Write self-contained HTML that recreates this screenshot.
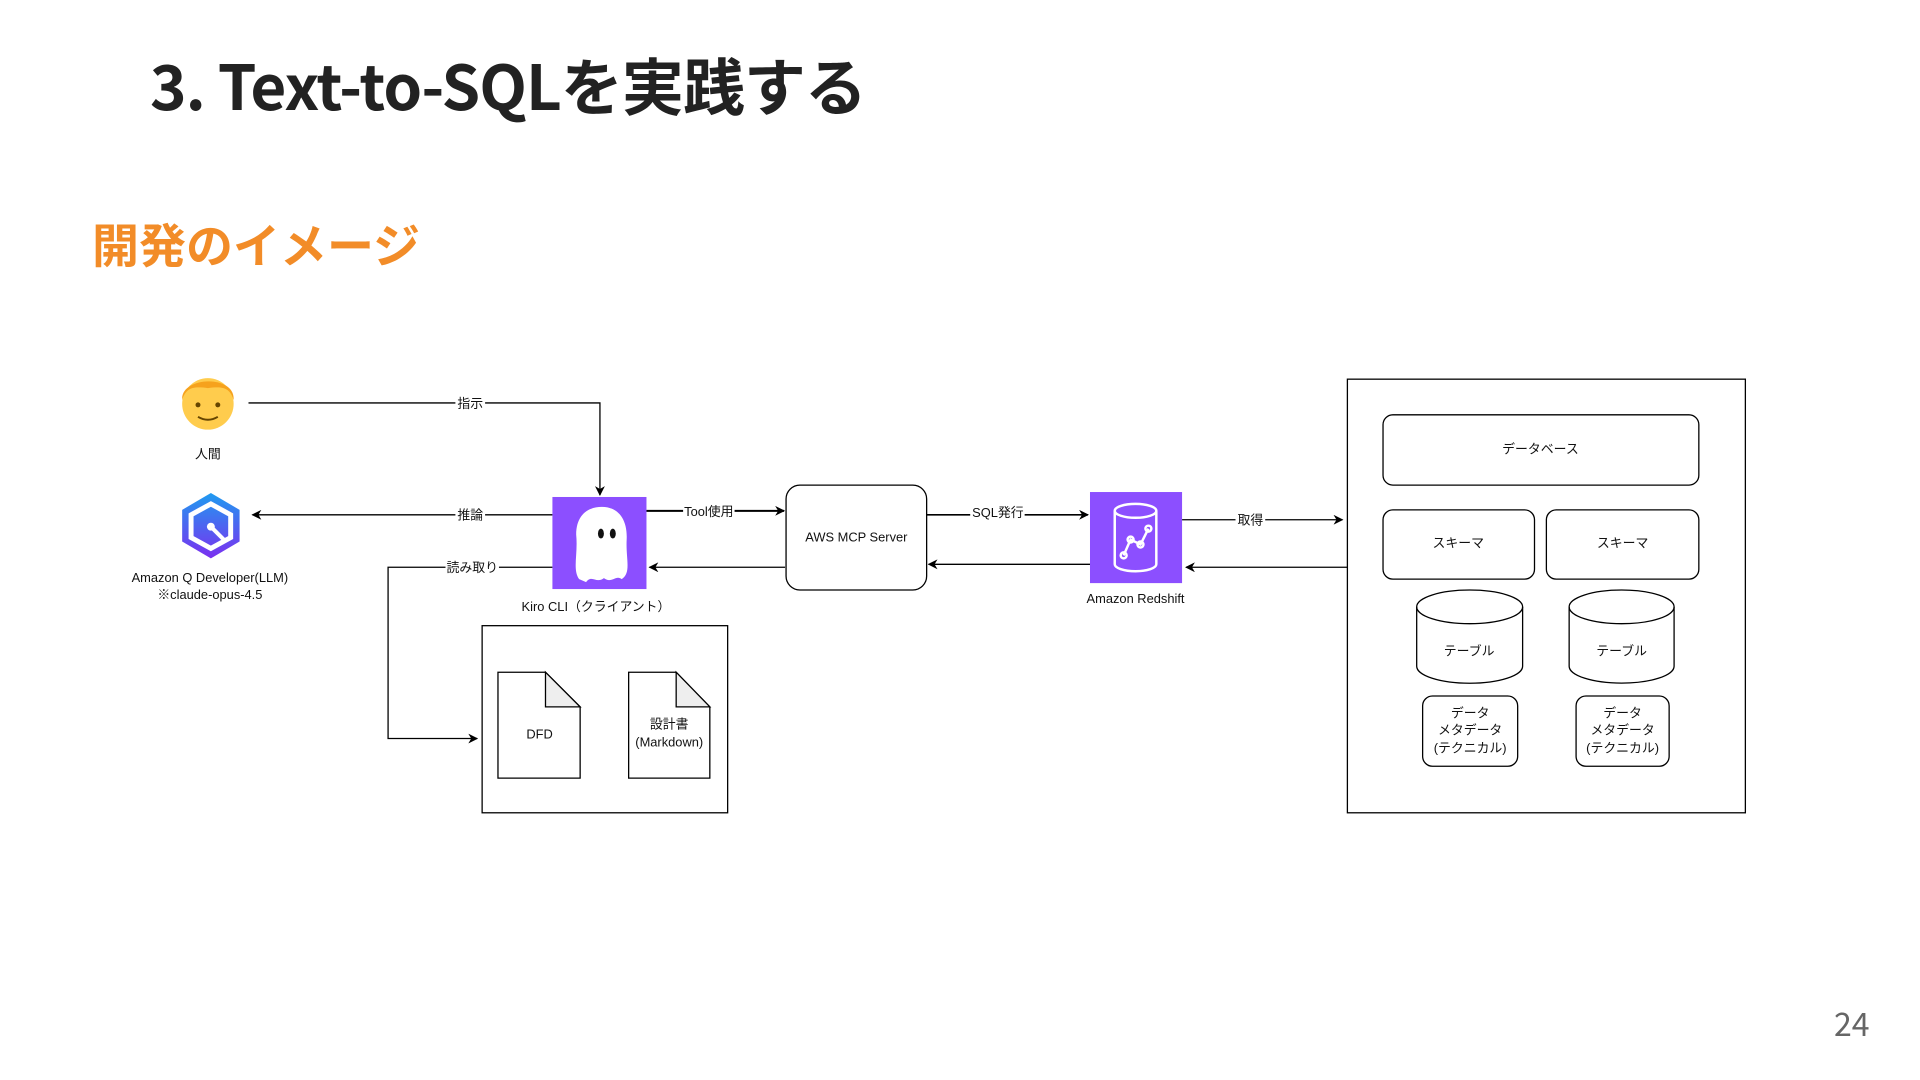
<!DOCTYPE html>
<html><head><meta charset="utf-8"><style>
body{margin:0;width:1920px;height:1080px;background:#fff;overflow:hidden;font-family:"Liberation Sans","Noto Sans CJK JP",sans-serif;position:relative}
.t{position:absolute;left:150px;top:38px;font-size:62px;font-weight:bold;color:#222;font-family:"Noto Sans CJK JP","Liberation Sans",sans-serif;letter-spacing:-1px;white-space:nowrap}
.s{position:absolute;left:92px;top:208px;font-size:47px;font-weight:bold;color:#f28c28;font-family:"Noto Sans CJK JP",sans-serif;white-space:nowrap}
.p{position:absolute;left:1834px;top:1000px;font-size:32px;color:#666;font-family:"Noto Sans CJK JP",sans-serif}
svg{position:absolute;left:0;top:0}
text{font-family:"Liberation Sans","Noto Sans CJK JP",sans-serif;font-size:13px;fill:#111}
</style></head><body>
<div class="t">3. Text-to-SQLを実践する</div>
<div class="s">開発のイメージ</div>
<div class="p">24</div>
<svg width="1920" height="1080">
<defs><marker id="a" markerWidth="10" markerHeight="10" refX="9" refY="5" orient="auto" markerUnits="userSpaceOnUse"><path d="M0,0 L10,5 L0,10 L3,5z" fill="#000"/></marker>
<linearGradient id="g" x1="0" y1="0" x2="0" y2="1"><stop offset="0" stop-color="#1f9bf0"/><stop offset="1" stop-color="#7b2ff0"/></linearGradient></defs>
<g transform="scale(0.99)">
<g stroke="#000" stroke-width="1.3" fill="none">
<path d="M251,407 H606 V500" marker-end="url(#a)"/>
<path d="M558,520 H255" marker-end="url(#a)"/>
<path d="M558,573 H392 V746 H482" marker-end="url(#a)"/>
<path d="M653,516 H792" stroke-width="2" marker-end="url(#a)"/>
<path d="M793,573 H656" marker-end="url(#a)"/>
<path d="M936,520 H1099" stroke-width="1.6" marker-end="url(#a)"/>
<path d="M1101,570 H938" marker-end="url(#a)"/>
<path d="M1194,525 H1356" marker-end="url(#a)"/>
<path d="M1361,573 H1198" marker-end="url(#a)"/>
<rect x="487" y="632" width="248" height="189"/>
<rect x="794" y="490" width="142" height="106" rx="14"/>
<rect x="1361" y="383" width="402" height="438"/>
<rect x="1397" y="419" width="319" height="71" rx="10"/>
<rect x="1397" y="515" width="153" height="70" rx="10"/>
<rect x="1562" y="515" width="154" height="70" rx="10"/>
<rect x="1437" y="703" width="96" height="71" rx="10"/>
<rect x="1592" y="703" width="94" height="71" rx="10"/>
<path d="M1431,613 V673 A53,17 0 0 0 1538,673 V613" />
<ellipse cx="1484.5" cy="613" rx="53.5" ry="17"/>
<path d="M1585,613 V673 A53,17 0 0 0 1691,673 V613" />
<ellipse cx="1638" cy="613" rx="53" ry="17"/>
<path d="M503,679 H551 L586,714 V786 H503Z" fill="#fff"/>
<path d="M551,679 V714 H586Z" fill="#eee"/>
<path d="M635,679 H683 L717,714 V786 H635Z" fill="#fff"/>
<path d="M683,679 V714 H717Z" fill="#eee"/>
</g>
<g fill="#fff">
<rect x="460" y="398" width="30" height="16"/><rect x="460" y="512" width="30" height="16"/><rect x="450" y="565" width="54" height="16"/>
<rect x="690" y="508" width="52" height="16"/><rect x="980" y="512" width="55" height="16"/><rect x="1248" y="517" width="30" height="16"/>
</g>
<text x="475" y="412" text-anchor="middle">指示</text>
<text x="475" y="525" text-anchor="middle">推論</text>
<text x="477" y="578" text-anchor="middle">読み取り</text>
<text x="716" y="521" text-anchor="middle">Tool使用</text>
<text x="1008" y="522" text-anchor="middle">SQL発行</text>
<text x="1263" y="530" text-anchor="middle">取得</text>
<text x="210" y="463" text-anchor="middle">人間</text>
<text x="212" y="588" text-anchor="middle">Amazon Q Developer(LLM)</text>
<text x="212" y="605" text-anchor="middle">※claude-opus-4.5</text>
<text x="602" y="617" text-anchor="middle">Kiro CLI（クライアント）</text>
<text x="865" y="547" text-anchor="middle">AWS MCP Server</text>
<text x="1147" y="609" text-anchor="middle">Amazon Redshift</text>
<text x="545" y="746" text-anchor="middle">DFD</text>
<text x="676" y="736" text-anchor="middle">設計書</text>
<text x="676" y="754" text-anchor="middle">(Markdown)</text>
<text x="1556" y="458" text-anchor="middle">データベース</text>
<text x="1473" y="553" text-anchor="middle">スキーマ</text>
<text x="1639" y="553" text-anchor="middle">スキーマ</text>
<text x="1484" y="662" text-anchor="middle">テーブル</text>
<text x="1638" y="662" text-anchor="middle">テーブル</text>
<text x="1485" y="725" text-anchor="middle">データ</text>
<text x="1485" y="742" text-anchor="middle">メタデータ</text>
<text x="1485" y="760" text-anchor="middle">(テクニカル)</text>
<text x="1639" y="725" text-anchor="middle">データ</text>
<text x="1639" y="742" text-anchor="middle">メタデータ</text>
<text x="1639" y="760" text-anchor="middle">(テクニカル)</text>
<circle cx="210" cy="408" r="26" fill="#ffcc4d"/>
<path d="M184,404 C182,380 238,378 236,404 C232,392 226,390 210,392 C194,390 188,392 184,404Z" fill="#f6a21d"/>
<circle cx="200" cy="409" r="2.5" fill="#664500"/><circle cx="220" cy="409" r="2.5" fill="#664500"/>
<path d="M200,421 Q210,427 220,421" stroke="#664500" stroke-width="2" fill="none"/>
<path d="M213,498 L242,515 V547 L213,564 L184,547 V515Z" fill="url(#g)"/>
<path d="M213,509 L233,520 V543 L213,554 L193,543 V520Z" fill="none" stroke="#fff" stroke-width="5"/>
<line x1="213" y1="532" x2="226" y2="545" stroke="#fff" stroke-width="4"/>
<circle cx="213" cy="532" r="4" fill="#fff"/>
<rect x="558" y="502" width="95" height="93" fill="#8c4fff"/>
<path d="M585,585 C578,575 584,560 582,540 C582,520 594,512 608,512 C624,512 634,524 633,545 C632,565 638,578 628,585 C622,580 618,590 610,584 C602,590 598,580 592,588Z" fill="#fff"/>
<ellipse cx="607" cy="539" rx="3" ry="5" fill="#111"/><ellipse cx="619" cy="539" rx="3" ry="5" fill="#111"/>
<rect x="1101" y="497" width="93" height="92" fill="#8c4fff"/>
<g stroke="#fff" stroke-width="2.5" fill="none">
<ellipse cx="1147" cy="516" rx="21" ry="7"/>
<path d="M1126,516 V570 A21,7 0 0 0 1168,570 V516"/>
<path d="M1135,561 L1142,545 L1152,550 L1160,534"/>
<circle cx="1135" cy="561" r="3"/><circle cx="1142" cy="545" r="3"/><circle cx="1152" cy="550" r="3"/><circle cx="1160" cy="534" r="3"/>
</g>
</g>
</svg>
</body></html>
